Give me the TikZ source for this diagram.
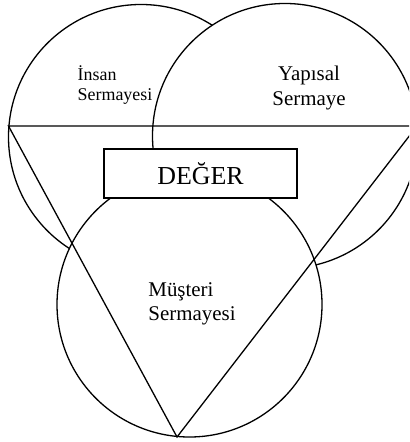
\documentclass[tikz,border=0pt]{standalone}
\usepackage{fontspec}
\setmainfont{Liberation Serif}
\usetikzlibrary{positioning}

\begin{document}
\begin{tikzpicture}[x=1bp, y=-1bp,
    capital/.style={draw, circle, fill=white, line width=1.3bp, minimum size=265bp, inner sep=0pt},
    lbl/.style={inner sep=0pt, font=\fontsize{21}{24.5}\selectfont},
    box/.style={draw, fill=white, line width=1.3bp, minimum width=193bp, minimum height=49bp, inner sep=0pt, font=\fontsize{26}{30}\selectfont},
    edge/.style={line width=1.3bp}
]
\useasboundingbox (0,0) rectangle (409,442);
\clip (0,0) rectangle (409,442);
% three overlapping circles, later ones hide earlier ones
\node[capital] (insan) at (141,137) {};
\node[capital] (yapisal) at (285,136) {};
\node[capital] (musteri) at (189.5,304.5) {};

% triangle over the circles
\coordinate (tl) at (8.5,126);
\coordinate (tr) at (417,126);
\coordinate (tb) at (177,437);
\draw[edge] (tl) -- (tr) -- (tb) -- cycle;

\node[lbl, font=\fontsize{18}{20}\selectfont, align=left] (insanlbl) at (115,85) {İnsan\\Sermayesi};
\node[lbl, align=center] (yapisallbl) at (309,88) {Yapısal\\Sermaye};
\node[lbl, align=left] (musterilbl) at (192,304) {Müşteri\\Sermayesi};
\node[box] (deger) at (200.5,173.5) {DEĞER};
\end{tikzpicture}
\end{document}
